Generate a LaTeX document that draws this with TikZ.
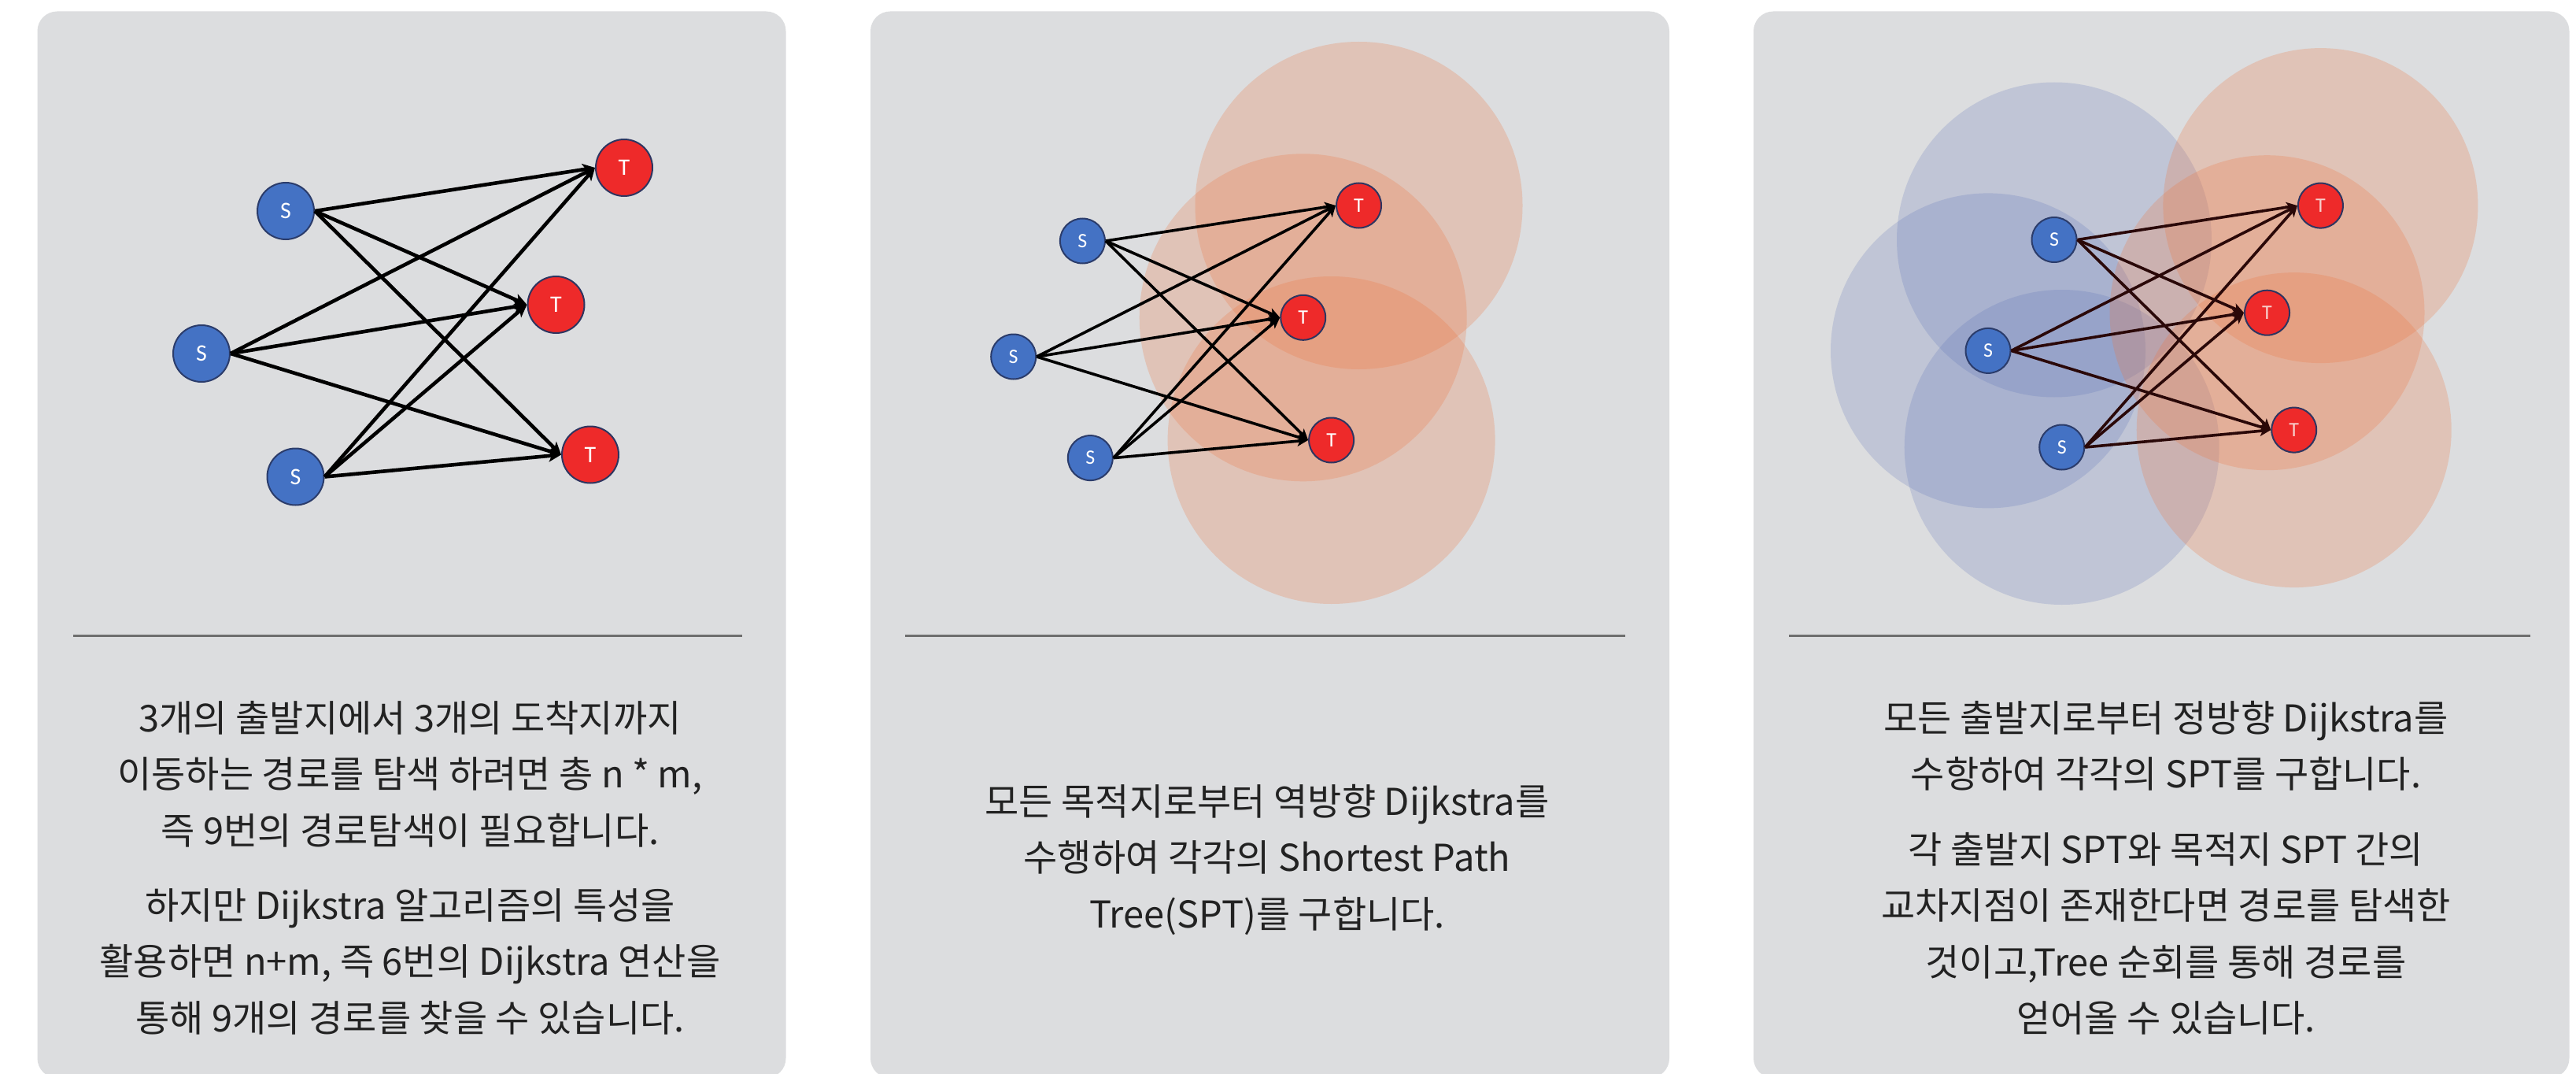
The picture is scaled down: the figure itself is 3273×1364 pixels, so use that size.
\documentclass[tikz,border=0pt]{standalone}
\usepackage{fontspec}
\usetikzlibrary{arrows.meta}
\newfontfamily\krfont{Noto Sans CJK KR}
\newfontfamily\lblfont{Carlito}
\definecolor{panelgray}{HTML}{DCDDDF}
\definecolor{nodeblue}{HTML}{4472C4}
\definecolor{nodeblueedge}{HTML}{2B3C6B}
\definecolor{nodered}{HTML}{EE2A2A}
\definecolor{noderededge}{HTML}{2E3560}
\definecolor{sptorange}{HTML}{EE7640}
\definecolor{sptblue}{HTML}{5068B4}
\definecolor{seprule}{HTML}{6E6E6E}
\definecolor{bodytext}{HTML}{222222}
\definecolor{darkarrow}{HTML}{2A0808}
\definecolor{pinklabel}{HTML}{F7CFCB}
\tikzset{
  panelbox/.style={fill=panelgray, rounded corners=25pt},
  sepline/.style={draw=seprule, line width=3pt},
  snodeA/.style={circle, fill=nodeblue, draw=nodeblueedge, line width=2pt, text=white, inner sep=0pt, minimum size=72pt, font=\lblfont\fontsize{30}{30}\selectfont},
  tnodeA/.style={snodeA, fill=nodered, draw=noderededge},
  snodeB/.style={snodeA, minimum size=57pt, font=\lblfont\fontsize{26}{26}\selectfont},
  tnodeB/.style={snodeB, fill=nodered, draw=noderededge},
  arrA/.style={-{Stealth[length=16pt,width=15pt,inset=4pt]}, line width=4.6pt, black},
  arrB/.style={-{Stealth[length=14pt,width=13pt,inset=3.5pt]}, line width=3.6pt, black},
  orangespot/.style={fill=sptorange, fill opacity=0.25},
  bluespot/.style={fill=sptblue, fill opacity=0.2},
  bodyline/.style={anchor=base, inner sep=0pt, text=bodytext, font=\krfont\fontsize{47}{56}\selectfont},
}
\begin{document}
\begin{tikzpicture}[x=1pt, y=-1pt]
\useasboundingbox (0,0) rectangle (3273,1364);
\clip (0,0) rectangle (3273,1364);
\fill[white] (0,0) rectangle (3273,1364);
% panels
\fill[panelbox] (47.5,14.5) rectangle (998.5,1369);
\fill[panelbox] (1106,14.5) rectangle (2121,1369);
\fill[panelbox] (2228,14.5) rectangle (3264.5,1369);

% ---------- panel 1 ----------
\node[snodeA] (a-s1) at (363,268) {S};
\node[snodeA] (a-s2) at (256,449) {S};
\node[snodeA] (a-s3) at (375.5,605.5) {S};
\node[tnodeA] (a-t1) at (793,213) {T};
\node[tnodeA] (a-t2) at (706.5,387) {T};
\node[tnodeA] (a-t3) at (750,577.5) {T};
\foreach \s in {1,2,3}{\foreach \t in {1,2,3}{\draw[arrA] (a-s\s.east) -- (a-t\t.west);}}
\coordinate (a-sepl) at (93,807);
\coordinate (a-sepr) at (942.5,807);
\draw[sepline] (a-sepl) -- (a-sepr);
\node[bodyline] (a-l1) at (521,929) {3개의 출발지에서 3개의 도착지까지};
\node[bodyline] (a-l2) at (521,1000.5) {이동하는 경로를 탐색 하려면 총 n * m,};
\node[bodyline] (a-l3) at (521,1072) {즉 9번의 경로탐색이 필요합니다.};
\node[bodyline] (a-l4) at (521,1167) {하지만 Dijkstra 알고리즘의 특성을};
\node[bodyline] (a-l5) at (521,1238.5) {활용하면 n+m, 즉 6번의 Dijkstra 연산을};
\node[bodyline] (a-l6) at (521,1310) {통해 9개의 경로를 찾을 수 있습니다.};

% ---------- panel 2 ----------
\coordinate (b-c1) at (1726.5,261);
\coordinate (b-c2) at (1655.7,403.3);
\coordinate (b-c3) at (1691.6,559);
\fill[orangespot] (b-c1) circle[radius=208pt];
\fill[orangespot] (b-c2) circle[radius=208pt];
\fill[orangespot] (b-c3) circle[radius=208pt];
\node[snodeB] (b-s1) at (1375.4,306) {S};
\node[snodeB] (b-s2) at (1287.7,453) {S};
\node[snodeB] (b-s3) at (1385.3,581.6) {S};
\node[tnodeB] (b-t1) at (b-c1) {T};
\node[tnodeB] (b-t2) at (b-c2) {T};
\node[tnodeB] (b-t3) at (b-c3) {T};
\foreach \s in {1,2,3}{\foreach \t in {1,2,3}{\draw[arrB] (b-s\s.east) -- (b-t\t.west);}}
\coordinate (b-sepl) at (1150,807);
\coordinate (b-sepr) at (2064.6,807);
\draw[sepline] (b-sepl) -- (b-sepr);
\node[bodyline] (b-l1) at (1610,1035) {모든 목적지로부터 역방향 Dijkstra를};
\node[bodyline] (b-l2) at (1610,1106.5) {수행하여 각각의 Shortest Path};
\node[bodyline] (b-l3) at (1610,1178) {Tree(SPT)를 구합니다.};

% ---------- panel 3 ----------
\coordinate (c-c1) at (2610,304.5);
\coordinate (c-c2) at (2526,445.4);
\coordinate (c-c3) at (2619.7,568);
\coordinate (c-d1) at (2948.4,261.1);
\coordinate (c-d2) at (2880.5,397.2);
\coordinate (c-d3) at (2914.7,546.1);
\fill[bluespot] (c-c1) circle[radius=200pt];
\fill[bluespot] (c-c2) circle[radius=200pt];
\fill[bluespot] (c-c3) circle[radius=200pt];
\fill[orangespot] (c-d1) circle[radius=200pt];
\fill[orangespot] (c-d2) circle[radius=200pt];
\fill[orangespot] (c-d3) circle[radius=200pt];
\node[snodeB] (c-s1) at (c-c1) {S};
\node[snodeB] (c-s2) at (c-c2) {S};
\node[snodeB] (c-s3) at (c-c3) {S};
\node[tnodeB, text=pinklabel] (c-t1) at (c-d1) {T};
\node[tnodeB, text=pinklabel] (c-t2) at (c-d2) {T};
\node[tnodeB, text=pinklabel] (c-t3) at (c-d3) {T};
\foreach \s in {1,2,3}{\foreach \t in {1,2,3}{\draw[arrB, darkarrow] (c-s\s.east) -- (c-t\t.west);}}
\coordinate (c-sepl) at (2273.3,807);
\coordinate (c-sepr) at (3215,807);
\draw[sepline] (c-sepl) -- (c-sepr);
\node[bodyline] (c-l1) at (2752,929) {모든 출발지로부터 정방향 Dijkstra를};
\node[bodyline] (c-l2) at (2752,1000.5) {수항하여 각각의 SPT를 구합니다.};
\node[bodyline] (c-l3) at (2752,1096) {각 출발지 SPT와 목적지 SPT 간의};
\node[bodyline] (c-l4) at (2752,1167.5) {교차지점이 존재한다면 경로를 탐색한};
\node[bodyline] (c-l5) at (2752,1239) {것이고,Tree 순회를 통해 경로를};
\node[bodyline] (c-l6) at (2752,1310.5) {얻어올 수 있습니다.};
\end{tikzpicture}
\end{document}
